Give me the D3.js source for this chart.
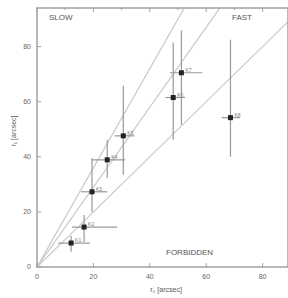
<!DOCTYPE html>
<html>
<head>
<meta charset="utf-8">
<script src="https://cdn.jsdelivr.net/npm/d3@7"></script>
<style>
  body { margin: 0; background: #fff; }
  text { font-family: 'Liberation Sans', Arial, sans-serif; }
</style>
</head>
<body>
<div id="chartArea"></div>
<script>
// measured points (arcsec)
const names = ['K1', 'K2', 'K3', 'K4', 'K5', 'K6', 'K7', 'K8']
const xVal = [12.1, 16.7, 19.5, 24.9, 30.6, 48.3, 51.2, 68.6]
const yVal = [8.7, 14.5, 27.3, 38.9, 47.6, 61.5, 70.5, 54.2]
const xLo = [7.5, 12.4, 15.6, 19.5, 27.5, 45.5, 47.2, 65.5]
const xHi = [18.8, 28.4, 24.9, 31.3, 34.5, 52.5, 58.6, 72.0]
const yLo = [5.5, 9.1, 20.0, 32.4, 33.5, 46.2, 51.6, 40.0]
const yHi = [11.3, 18.9, 39.6, 46.2, 65.8, 81.5, 85.8, 82.5]
// reference lines y = s * x
const slopes = [1, 1.45, 1.8]
const ticks = [0, 20, 40, 60, 80]
const minorTicks = [10, 30, 50, 70, 90]

const data = names.map((n, i) => ({
  name: n, x: xVal[i], y: yVal[i],
  xlo: xLo[i], xhi: xHi[i], ylo: yLo[i], yhi: yHi[i]
}))

const width = 288
const height = 298
const margin = { top: 8, right: 0, bottom: 31, left: 37 }

const svg = d3.select('#chartArea')
  .append('svg')
  .attr('width', width)
  .attr('height', height)

const xScale = d3.scaleLinear().domain([0, 89]).range([margin.left, width - margin.right])
const yScale = d3.scaleLinear().domain([0, 94]).range([height - margin.bottom, margin.top])

const grey = '#a0a0a0'
const ink = '#555'

// clip for the diagonals
svg.append('clipPath').attr('id', 'clip')
  .append('rect')
  .attr('x', margin.left).attr('y', margin.top)
  .attr('width', width - margin.left - margin.right)
  .attr('height', height - margin.top - margin.bottom)

// reference lines
svg.append('g')
  .attr('clip-path', 'url(#clip)')
  .selectAll('line')
  .data(slopes)
  .join('line')
  .attr('x1', xScale(0))
  .attr('y1', yScale(0))
  .attr('x2', d => xScale(100))
  .attr('y2', d => yScale(100 * d))
  .attr('stroke', '#c8c8c8')
  .attr('stroke-width', 1.2)

// frame
svg.append('rect')
  .attr('x', margin.left)
  .attr('y', margin.top)
  .attr('width', width - margin.left - margin.right)
  .attr('height', height - margin.top - margin.bottom)
  .attr('fill', 'none')
  .attr('stroke', grey)
  .attr('stroke-width', 1.5)

// ticks (inward)
const tickG = svg.append('g').attr('stroke', grey)
tickG.selectAll('.xb').data(ticks).join('line')
  .attr('x1', d => xScale(d)).attr('x2', d => xScale(d))
  .attr('y1', yScale(0)).attr('y2', yScale(0) - 4)
tickG.selectAll('.xt').data(ticks.concat(minorTicks)).join('line')
  .attr('x1', d => xScale(d)).attr('x2', d => xScale(d))
  .attr('y1', yScale(94)).attr('y2', d => yScale(94) + (d % 20 ? 2 : 4))
tickG.selectAll('.yl').data(ticks).join('line')
  .attr('x1', xScale(0)).attr('x2', xScale(0) + 4)
  .attr('y1', d => yScale(d)).attr('y2', d => yScale(d))

// tick labels
svg.append('g').selectAll('text').data(ticks).join('text')
  .attr('x', d => xScale(d))
  .attr('y', yScale(0) + 12)
  .attr('text-anchor', 'middle')
  .attr('font-size', 7)
  .attr('fill', '#666')
  .text(d => d)

svg.append('g').selectAll('text').data(ticks).join('text')
  .attr('x', xScale(0) - 6)
  .attr('y', d => yScale(d))
  .attr('dy', '0.32em')
  .attr('text-anchor', 'end')
  .attr('font-size', 7)
  .attr('fill', '#666')
  .text(d => d)

// axis titles
svg.append('text')
  .attr('x', 166)
  .attr('y', 292)
  .attr('text-anchor', 'middle')
  .attr('font-size', 7)
  .attr('fill', ink)
  .text('r₀ [arcsec]')

svg.append('text')
  .attr('transform', 'translate(16,131) rotate(-90)')
  .attr('text-anchor', 'middle')
  .attr('font-size', 7)
  .attr('fill', ink)
  .text('r₁ [arcsec]')

// region labels
svg.append('text').attr('x', 49).attr('y', 20).attr('font-size', 8).attr('fill', ink).text('SLOW')
svg.append('text').attr('x', 232).attr('y', 20).attr('font-size', 8).attr('fill', ink).text('FAST')
svg.append('text').attr('x', 166).attr('y', 255).attr('font-size', 8).attr('fill', ink).text('FORBIDDEN')

// error bars
const pts = svg.append('g').selectAll('g').data(data).join('g')
pts.append('line')
  .attr('x1', d => xScale(d.x)).attr('x2', d => xScale(d.x))
  .attr('y1', d => yScale(d.ylo)).attr('y2', d => yScale(d.yhi))
  .attr('stroke', '#999').attr('stroke-width', 1.2)
pts.append('line')
  .attr('x1', d => xScale(d.xlo)).attr('x2', d => xScale(d.xhi))
  .attr('y1', d => yScale(d.y)).attr('y2', d => yScale(d.y))
  .attr('stroke', '#999').attr('stroke-width', 1.2)
pts.append('rect')
  .attr('x', d => xScale(d.x) - 2.5)
  .attr('y', d => yScale(d.y) - 2.5)
  .attr('width', 5).attr('height', 5)
  .attr('fill', '#222')
pts.append('text')
  .attr('x', d => xScale(d.x) + 4)
  .attr('y', d => yScale(d.y) - 1)
  .attr('font-size', 5)
  .attr('fill', '#777')
  .text(d => d.name)
</script>
</body>
</html>
